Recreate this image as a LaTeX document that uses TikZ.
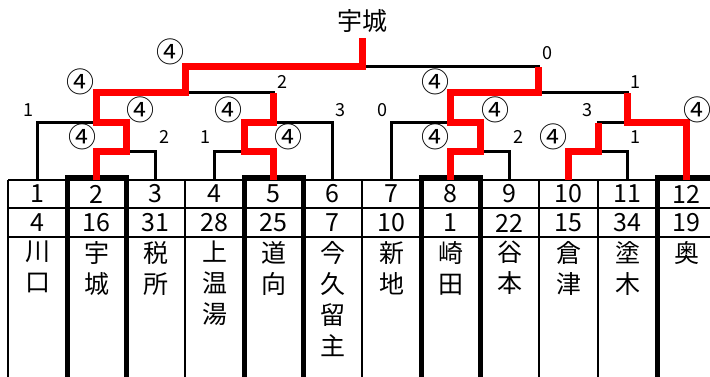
\documentclass[tikz,border=0pt]{standalone}
\usepackage{fontspec}
\setmainfont{Noto Sans CJK JP}
\begin{document}
\begin{tikzpicture}[x=1pt,y=-1pt,line join=miter,
    bline/.style={line width=3pt},
    wline/.style={line width=7pt,red},
    grid/.style={line width=2.6pt},
    wincol/.style={line width=5pt},
    score/.style={font=\fontsize{18}{18}\selectfont,inner sep=0pt},
    circ/.style={font=\fontsize{28}{28}\selectfont,inner sep=0pt},
    cell/.style={font=\fontsize{25}{25}\selectfont,inner sep=0pt},
    team/.style={font=\fontsize{25}{31}\selectfont,inner sep=0pt,align=center,anchor=north}]
\useasboundingbox (0,0) rectangle (710,377);
% table
\foreach \i in {0,...,12} \draw[grid] ({8+59*\i},180)--({8+59*\i},377);
\foreach \y in {180,208,237} \draw[grid] (8,\y)--(716,\y);
\foreach \i in {2,5,8,12} \draw[wincol] ({8+59*(\i-1)},377)--({8+59*(\i-1)},178)--({8+59*\i},178)--({8+59*\i},377);
\foreach \i/\s/\t in {1/4/川\\口,2/16/宇\\城,3/31/税\\所,4/28/上\\温\\湯,5/25/道\\向,6/7/今\\久\\留\\主,
    7/10/新\\地,8/1/崎\\田,9/22/谷\\本,10/15/倉\\津,11/34/塗\\木,12/19/奥}{
  \coordinate (t\i) at ({37.5+59*(\i-1)},180);
  \node[cell] (no\i) at ({37.5+59*(\i-1)},194) {\i};
  \node[cell] (seed\i) at ({37.5+59*(\i-1)},223) {\s};
  \node[team] (name\i) at ({37.5+59*(\i-1)},241) {\t};
}
% bracket
\coordinate (a) at (126,152);
\coordinate (b) at (96.5,123);
\coordinate (c) at (244,152);
\coordinate (d) at (273.5,123);
\coordinate (e) at (185,93);
\coordinate (top) at (362,67);
\coordinate (champ) at (362,38);
\coordinate (j) at (480,152);
\coordinate (i) at (450.5,123);
\coordinate (g) at (598,152);
\coordinate (h) at (627.5,123);
\coordinate (f) at (538,93);
\draw[bline] (t1) |- (b) (a) -| (t3) (t4) |- (c) (d) -| (t6) (e) -| (d);
\draw[bline] (top) -| (f) (t7) |- (i) (j) -| (t9) (f) -| (h) (g) -| (t11) (g) |- (h) -| (t12);
\draw[wline] (t2) |- (a) |- (b) |- (e) |- (top) -- (champ);
\draw[wline] (t5) |- (c) |- (d) -- (d |- e);
\draw[wline] (t8) |- (j) |- (i) |- (f) -- (f |- top);
\draw[wline] (t10) |- (g) -- (g |- h);
\draw[wline] (t12) |- (h) -- (h |- f);
\node[cell] (winner) at (362,21) {宇城};
% scores
\foreach \x/\y [count=\k] in {170/52,80/82,435/82,140/110,228/110,495/110,697/110,82/137,288/137,435/137,553/137}
  \node[circ] (win\k) at (\x,\y) {④};
\foreach \x/\y/\s [count=\k] in {547/53/0,282/82/2,635/82/1,28/110/1,340/110/3,382/110/0,587/110/3,
    164/137/2,205/137/1,518/137/2,635/137/1}
  \node[score] (lose\k) at (\x,\y) {\s};
\end{tikzpicture}
\end{document}
